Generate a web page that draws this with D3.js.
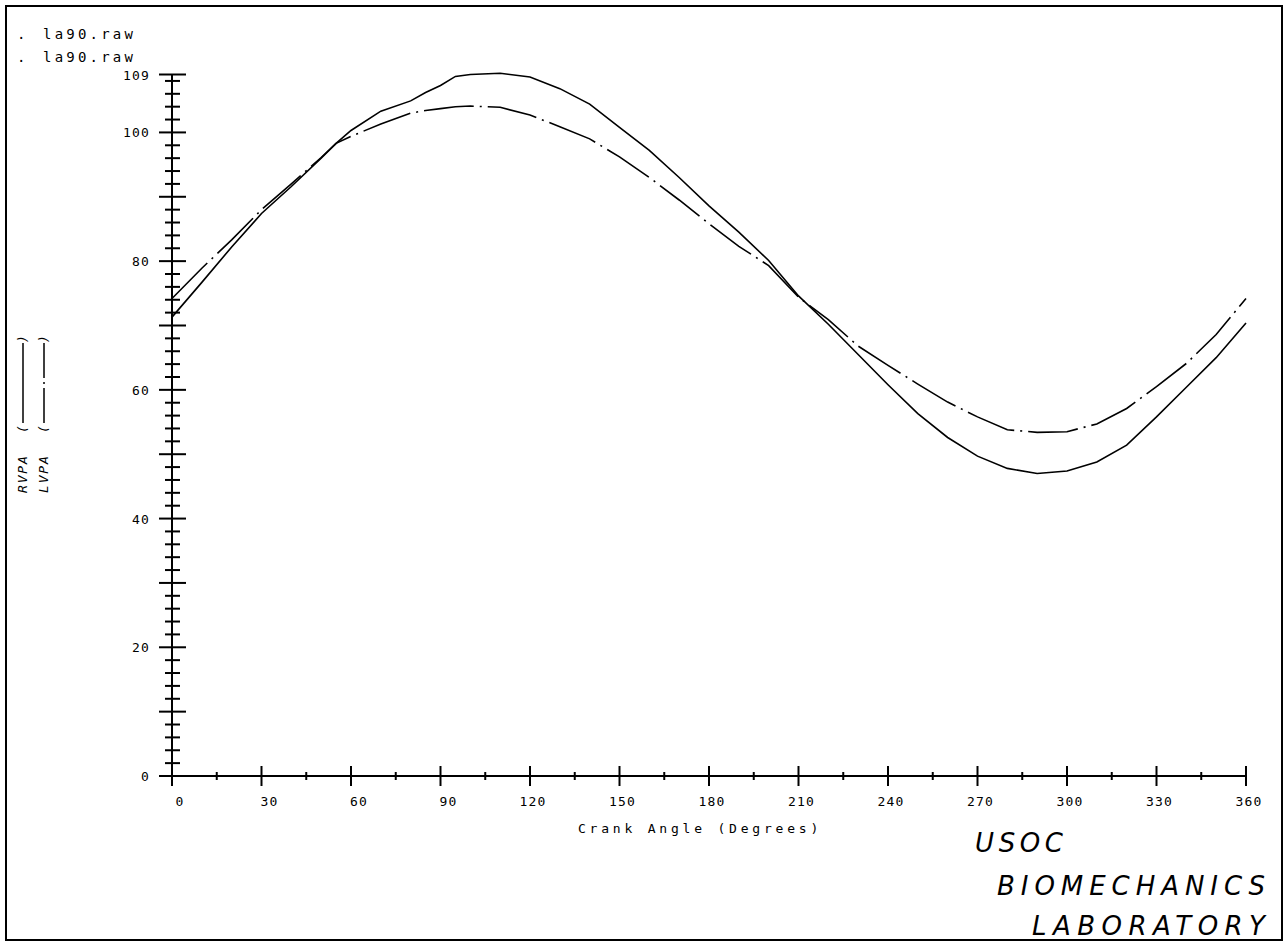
<!DOCTYPE html>
<html>
<head>
<meta charset="utf-8">
<script src="https://cdn.jsdelivr.net/npm/d3@7"></script>
<style>
  html, body { margin: 0; padding: 0; background: #fff; }
  svg { display: block; }
  text { fill: #000; }
</style>
</head>
<body>
<div id="chart"></div>
<script>
// crank angle samples (degrees)
let angles = [0, 10, 20, 30, 40, 50, 55, 60, 70, 80, 85, 90, 95, 100, 110, 120, 130, 140, 150,
  160, 170, 180, 190, 200, 210, 220, 230, 240, 250, 260, 270, 280, 290, 300, 310, 320, 330,
  340, 350, 360];

// right side (solid line)
let rvpa = [71.3, 76.7, 82.2, 87.4, 91.6, 96.0, 98.3, 100.3, 103.3, 104.9, 106.2, 107.3, 108.7,
  109.0, 109.2, 108.6, 106.8, 104.4, 100.8, 97.2, 93.0, 88.6, 84.5, 80.1, 74.6, 70.2, 65.5,
  60.8, 56.3, 52.6, 49.7, 47.8, 47.0, 47.4, 48.8, 51.4, 55.8, 60.4, 65.0, 70.4];

// left side (dash-dot line)
let lvpa = [74.2, 78.9, 83.3, 88.0, 92.0, 96.1, 98.3, 99.4, 101.3, 103.0, 103.4, 103.7, 104.0,
  104.1, 103.9, 102.7, 100.9, 99.0, 96.2, 93.0, 89.5, 85.8, 82.3, 79.3, 74.4, 70.9, 66.8,
  63.8, 60.9, 58.1, 55.8, 53.8, 53.4, 53.5, 54.7, 57.1, 60.5, 64.1, 68.6, 74.2];

let xLabels = [0, 30, 60, 90, 120, 150, 180, 210, 240, 270, 300, 330, 360];
let xMinorTicks = [15, 45, 75, 105, 135, 165, 195, 225, 255, 285, 315, 345];
let yLabels = [0, 20, 40, 60, 80, 100, 109];
let yMajorTicks = [0, 10, 20, 30, 40, 50, 60, 70, 80, 90, 100, 109];
let yMinorTicks = d3.range(2, 109, 2).filter((v) => v % 10 !== 0);

let fileNames = ['la90.raw', 'la90.raw'];
let xTitle = 'Crank Angle (Degrees)';
let labLines = ['USOC', 'BIOMECHANICS', 'LABORATORY'];

let width = 1286;
let height = 942;
let mono = '"DejaVu Sans Mono", monospace';
let dashDot = '50,6,2,6';

let svg = d3.select('#chart').append('svg')
    .attr('width', width)
    .attr('height', height)
    .style('font-family', mono);

// page frame
svg.append('rect')
    .attr('x', 6).attr('y', 6)
    .attr('width', 1276).attr('height', 934)
    .attr('fill', 'none').attr('stroke', '#000').attr('stroke-width', 2);

let x = d3.scaleLinear().domain([0, 360]).range([172, 1246]);
let y = d3.scaleLinear().domain([0, 109]).range([776, 74.5]);

let axes = svg.append('g').attr('stroke', '#000').attr('stroke-width', 2);

// y axis line + crossing ticks
axes.append('line')
    .attr('x1', x(0)).attr('x2', x(0))
    .attr('y1', y(109)).attr('y2', y(0) + 10);
axes.selectAll('.ymaj').data(yMajorTicks).join('line')
    .attr('x1', x(0) - 13).attr('x2', x(0) + 14)
    .attr('y1', (d) => y(d)).attr('y2', (d) => y(d));
axes.selectAll('.ymin').data(yMinorTicks).join('line')
    .attr('x1', x(0) - 7).attr('x2', x(0) + 8)
    .attr('y1', (d) => y(d)).attr('y2', (d) => y(d));

// x axis line + crossing ticks
axes.append('line')
    .attr('x1', x(0)).attr('x2', x(360))
    .attr('y1', y(0)).attr('y2', y(0));
axes.selectAll('.xmaj').data(xLabels.slice(1)).join('line')
    .attr('x1', (d) => x(d)).attr('x2', (d) => x(d))
    .attr('y1', y(0) - 10).attr('y2', y(0) + 10);
axes.selectAll('.xmin').data(xMinorTicks).join('line')
    .attr('x1', (d) => x(d)).attr('x2', (d) => x(d))
    .attr('y1', y(0) - 4).attr('y2', y(0) + 4);

// tick labels
svg.selectAll('.ylab').data(yLabels).join('text')
    .attr('x', 150)
    .attr('y', (d) => y(d) + 5)
    .attr('text-anchor', 'end')
    .attr('font-size', 13)
    .attr('letter-spacing', 1.2)
    .text((d) => d);

svg.selectAll('.xlab').data(xLabels).join('text')
    .attr('x', (d) => x(d) + (d < 100 ? 8 : 3))
    .attr('y', 806)
    .attr('text-anchor', 'middle')
    .attr('font-size', 13)
    .attr('letter-spacing', 1.2)
    .text((d) => d);

svg.append('text')
    .attr('x', 700).attr('y', 833)
    .attr('text-anchor', 'middle')
    .attr('font-size', 13)
    .attr('letter-spacing', 3.8)
    .text(xTitle);

// data file names, top left
fileNames.forEach((name, i) => {
  let ty = 39 + i * 23;
  svg.append('text').attr('x', 17).attr('y', ty).attr('font-size', 14).text('.');
  svg.append('text').attr('x', 43).attr('y', ty)
      .attr('font-size', 14).attr('letter-spacing', 3.2)
      .text(name);
});

// rotated y legend: name ( line sample )
function yLegend(xpos, name, dash) {
  let g = svg.append('g').attr('transform', `translate(${xpos},493) rotate(-90)`)
      .attr('font-size', 13).attr('font-style', 'italic');
  g.append('text').attr('x', 0).attr('y', 0)
      .attr('letter-spacing', 1.8)
      .text(name);
  g.append('text').attr('x', 60).attr('y', 0).text('(');
  g.append('line')
      .attr('x1', 70).attr('x2', 150).attr('y1', -4).attr('y2', -4)
      .attr('stroke', '#000').attr('stroke-width', 1.5)
      .attr('stroke-dasharray', dash);
  g.append('text').attr('x', 150).attr('y', 0).text(')');
}
yLegend(27, 'RVPA', null);
yLegend(48, 'LVPA', '35,4,2,4');

// curves
let line = d3.line()
    .x((d) => x(d[0]))
    .y((d) => y(d[1]));

svg.append('path')
    .datum(angles.map((a, i) => [a, rvpa[i]]))
    .attr('d', line)
    .attr('fill', 'none').attr('stroke', '#000').attr('stroke-width', 1.6);

svg.append('path')
    .datum(angles.map((a, i) => [a, lvpa[i]]))
    .attr('d', line)
    .attr('fill', 'none').attr('stroke', '#000').attr('stroke-width', 1.6)
    .attr('stroke-dasharray', dashDot);

// lab signature, bottom right
let labPos = [[975, 852, 88], [997, 895, 268], [1032, 935, 233]];
labLines.forEach((t, i) => {
  svg.append('text')
      .attr('x', labPos[i][0]).attr('y', labPos[i][1])
      .style('font-family', '"DejaVu Sans", sans-serif')
      .attr('font-style', 'italic')
      .attr('font-size', 26)
      .attr('textLength', labPos[i][2])
      .attr('lengthAdjust', 'spacing')
      .text(t);
});
</script>
</body>
</html>
